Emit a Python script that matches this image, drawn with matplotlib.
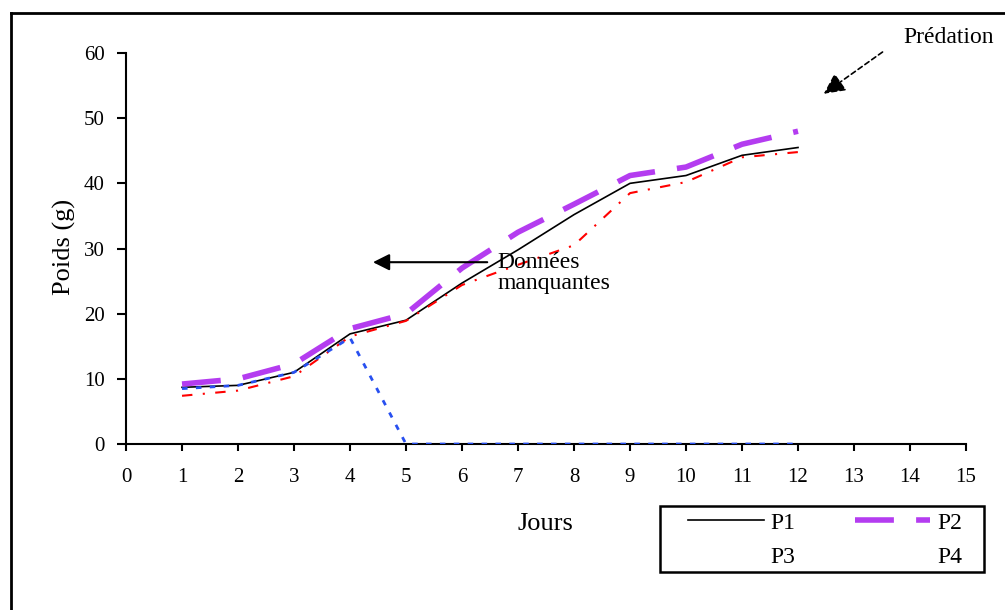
import matplotlib.pyplot as plt
from matplotlib.lines import Line2D
from matplotlib.patches import Rectangle

plt.rcParams["font.family"] = ["Liberation Serif", "DejaVu Serif"]

# days and weights (g) per individual
jours = [1, 2, 3, 4, 5, 6, 7, 8, 9, 10, 11, 12]
p1 = [8.7, 9.0, 11.0, 16.9, 19.0, 24.7, 29.8, 35.2, 40.0, 41.2, 44.3, 45.5]
p2 = [9.2, 10.0, 12.3, 17.7, 20.0, 27.0, 32.5, 36.8, 41.2, 42.5, 46.0, 48.0]
p3 = [7.4, 8.2, 10.4, 16.5, 18.9, 24.4, 27.5, 30.5, 38.5, 40.2, 44.0, 44.8]
p4 = [8.5, 9.0, 11.0, 16.3, 0, 0, 0, 0, 0, 0, 0, 0]

x_ticks = list(range(0, 16))
y_ticks = [0, 10, 20, 30, 40, 50, 60]

fig = plt.figure(figsize=(10.05, 6.1), dpi=100)
ax = fig.add_axes([0.1254, 0.2721, 0.8358, 0.641])

l1, = ax.plot(jours, p1, color="black", lw=1.2, label="P1", zorder=3)
l2, = ax.plot(jours, p2, color="#b43cf0", lw=4, ls=(0, (7, 4)), label="P2", zorder=3)
l3, = ax.plot(jours, p3, color="red", lw=1.5, ls=(0, (5, 5, 1, 5)), label="P3", zorder=3)
l4, = ax.plot(jours, p4, color="#2850f0", lw=2, ls=(0, (2, 3)), label="P4", zorder=3)

ax.set_xlim(0, 15)
ax.set_ylim(0, 60)
ax.set_xticks(x_ticks)
ax.set_yticks(y_ticks)
for s in ["top", "right"]:
    ax.spines[s].set_visible(False)
for s in ["left", "bottom"]:
    ax.spines[s].set_linewidth(1.5)
ax.tick_params(axis="y", direction="out", length=6.5, width=1.5, pad=9, labelsize=15)
ax.tick_params(axis="x", direction="out", length=5, width=1.5, pad=12, labelsize=15)

ax.set_xlabel("Jours", fontsize=19)
ax.xaxis.set_label_coords(0.4988, -0.176)
ax.set_ylabel("Poids (g)", fontsize=19)
ax.yaxis.set_label_coords(-0.059, 0.503)

# annotations
ax.annotate("", xy=(4.36, 27.9), xytext=(6.5, 27.9),
            arrowprops=dict(arrowstyle="-|>", color="black", lw=1.5, mutation_scale=25))
ax.text(6.64, 29.4, "Données\nmanquantes", fontsize=17, va="top", ha="left",
        linespacing=1.0)

ax.annotate("", xy=(12.42, 53.5), xytext=(13.55, 60.4), annotation_clip=False,
            arrowprops=dict(arrowstyle="-|>", color="black", lw=1.2, ls=(0, (3, 2)),
                            mutation_scale=32))
ax.text(13.88, 62.4, "Prédation", fontsize=17, va="center", ha="left", clip_on=False)

# legend, frame drawn separately
leg = fig.legend([l1, l3, l2, l4], ["P1", "P3", "P2", "P4"], ncol=2,
                 bbox_to_anchor=(688 / 1005, 1 - 512 / 610), loc="upper left",
                 fontsize=17, handlelength=3.2, frameon=False, borderpad=0,
                 borderaxespad=0, columnspacing=2.5, handletextpad=0.3,
                 labelspacing=0.53)
leg.legend_handles[1].set_visible(False)
leg.legend_handles[3].set_visible(False)
fig.add_artist(Rectangle((0.6567, 0.0623), 0.3224, 0.1082, transform=fig.transFigure,
                         fill=False, edgecolor="black", lw=1.8))

# outer frame
fig.add_artist(Line2D([0.011, 1.0], [0.9787, 0.9787], color="black", lw=2,
                      transform=fig.transFigure))
fig.add_artist(Line2D([0.011, 0.011], [0.0, 0.9787], color="black", lw=2,
                      transform=fig.transFigure))

fig.savefig("out.png", dpi=100)
